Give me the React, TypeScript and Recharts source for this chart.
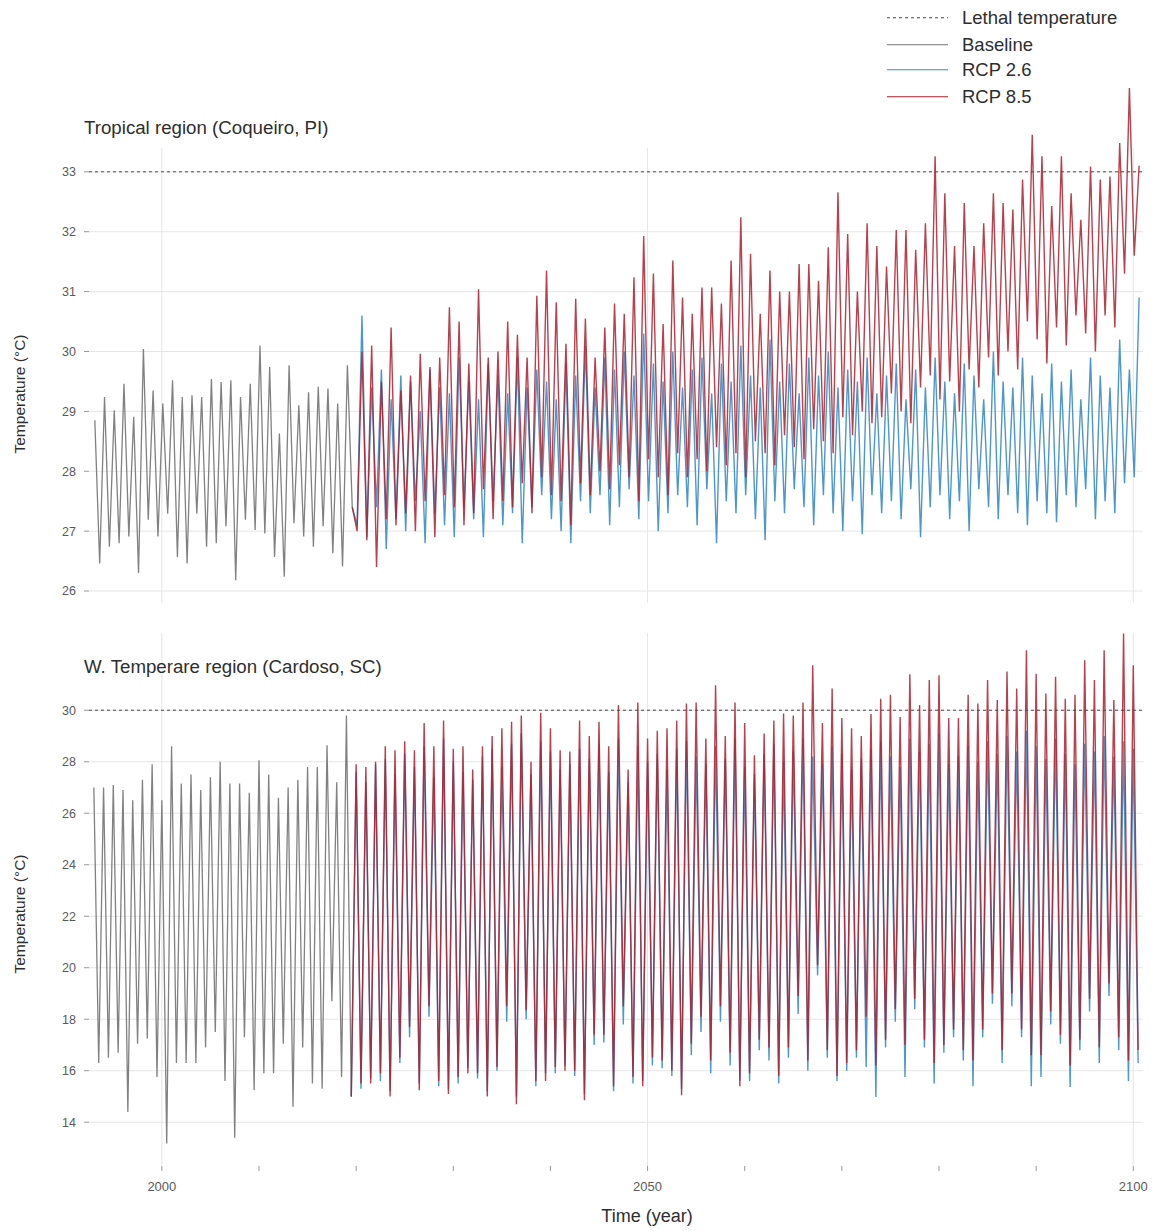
import {
  Line,
  LineChart,
  ReferenceLine,
  XAxis,
  YAxis,
} from "recharts";

// yearly peak / trough temperatures
const baseFirstYear = 1993;
const rcpFirstYear = 2020;

// Tropical region (Coqueiro, PI)
const topBasePeak = [
  28.85, 29.24, 29.02, 29.46, 28.91, 30.04, 29.35, 29.13, 29.52, 29.24,
  29.27, 29.24, 29.54, 29.49, 29.52, 29.24, 29.46, 30.1, 29.74, 28.63,
  29.77, 29.1, 29.32, 29.41, 29.38, 29.13, 29.77,
];
const topBaseTrough = [
  26.46, 26.74, 26.8, 26.91, 26.3, 27.19, 26.91, 27.29, 26.57, 26.46,
  27.29, 26.74, 26.8, 27.08, 26.18, 27.19, 27.02, 26.96, 26.57, 26.24,
  27.13, 26.91, 26.74, 27.08, 26.63, 26.41, 27.4,
];
const topRcp85Peak = [
  30.0, 30.1, 29.5, 30.4, 29.35, 29.6, 29.96, 29.74, 29.9, 30.74,
  30.5, 29.8, 31.04, 29.9, 30.0, 30.5, 30.28, 29.9, 30.93, 31.35,
  30.82, 30.13, 30.88, 30.55, 29.9, 30.4, 30.8, 30.63, 31.24, 31.93,
  31.3, 30.46, 31.52, 30.9, 30.63, 31.07, 31.07, 30.8, 31.52, 32.24,
  31.63, 30.63, 31.35, 31.0, 31.0, 31.46, 31.46, 31.18, 31.74, 32.66,
  31.96, 31.0, 32.14, 31.76, 31.42, 32.03, 32.03, 31.7, 32.14, 33.26,
  32.64, 31.76, 32.48, 31.76, 32.14, 32.64, 32.48, 32.37, 32.87, 33.62,
  33.26, 32.43, 33.26, 32.64, 32.2, 33.09, 32.87, 32.92, 33.48, 34.4,
  33.1,
];
const topRcp85Trough = [
  27.0, 26.85, 26.4, 27.2, 27.1, 27.3, 27.0, 27.5, 26.9, 27.6,
  27.4, 27.1, 27.3, 27.7, 27.2, 27.5, 27.4, 27.8, 27.3, 27.9,
  27.6, 27.5, 27.1, 27.8, 27.6, 28.0, 27.7, 28.1, 27.9, 27.5,
  28.2, 27.9, 27.6, 28.3, 27.9, 28.2, 28.0, 28.4, 28.1, 28.3,
  27.9, 28.5, 28.3, 28.1, 28.6, 28.4, 28.2, 28.7, 28.5, 28.3,
  28.9, 28.6, 29.0, 28.8, 28.9, 29.3, 29.0, 28.8, 29.4, 29.6,
  29.2, 29.5, 29.0, 29.7, 29.4, 29.9, 29.6, 30.0, 29.7, 30.5,
  30.2, 29.8, 30.4, 30.1, 30.6, 30.3, 30.0, 30.6, 30.4, 31.3,
  31.6,
];
const topRcp26Peak = [
  30.6, 29.4, 29.7, 29.2, 29.6, 29.5, 29.0, 29.7, 29.4, 29.3,
  29.9, 29.5, 29.2, 29.8, 29.6, 29.3, 29.9, 29.4, 29.7, 29.5,
  29.2, 29.8, 29.6, 30.1, 29.4, 29.9, 29.7, 30.0, 29.6, 30.3,
  29.8, 29.5, 30.0, 29.4, 29.7, 29.9, 29.3, 29.8, 29.5, 30.1,
  29.6, 29.4, 30.2, 29.5, 29.8, 29.3, 29.9, 29.6, 30.0, 29.4,
  29.7, 29.5, 29.9, 29.3, 29.6, 29.8, 29.2, 29.7, 29.4, 29.9,
  29.5, 29.3, 29.8, 29.6, 29.2, 30.0, 29.5, 29.4, 29.9, 29.6,
  29.3, 29.8, 29.5, 29.7, 29.2, 29.9, 29.6, 29.4, 30.2, 29.7,
  30.9,
];
const topRcp26Trough = [
  27.1, 26.9, 27.4, 26.7, 27.2, 27.0, 27.5, 26.8, 27.3, 27.1,
  26.9, 27.4, 27.2, 26.9, 27.5, 27.1, 27.3, 26.8, 27.4, 27.6,
  27.2, 27.0, 26.8, 27.5, 27.3, 27.6, 27.1, 27.4, 27.7, 27.2,
  27.5, 27.0, 27.3, 27.6, 27.4, 27.1, 27.7, 26.8, 27.5, 27.3,
  27.6, 27.2, 26.85, 27.5, 27.3, 27.7, 27.4, 27.1, 27.6, 27.3,
  27.0, 27.5, 26.95, 27.6, 27.3, 27.5, 27.2, 27.7, 26.9, 27.4,
  27.6, 27.2, 27.5, 27.0, 27.7, 27.4, 27.2, 27.6, 27.3, 27.1,
  27.5, 27.3, 27.15, 27.6, 27.4, 27.7, 27.2, 27.5, 27.3, 27.8,
  27.9,
];

// W. Temperare region (Cardoso, SC)
const botBasePeak = [
  27.0, 27.0, 27.1, 26.9, 26.5, 27.3, 27.9, 26.5, 28.6, 27.15,
  27.5, 26.9, 27.4, 28.0, 27.15, 27.15, 26.8, 28.06, 27.5, 26.6,
  27.0, 27.3, 27.8, 27.8, 28.64, 27.2, 29.8,
];
const botBaseTrough = [
  16.3, 16.5, 16.7, 14.4, 17.05, 17.25, 15.76, 13.17, 16.3, 16.3,
  16.3, 16.9, 17.5, 15.6, 13.4, 17.3, 15.25, 15.9, 15.9, 17.05,
  14.6, 16.9, 15.5, 15.3, 18.7, 15.76, 15.0,
];
const botRcp85Peak = [
  27.9, 27.8, 28.0, 28.6, 28.45, 28.8, 28.45, 29.5, 28.6, 29.6,
  28.5, 28.6, 27.7, 28.6, 29.0, 29.3, 29.55, 29.8, 28.0, 29.9,
  29.3, 28.45, 28.4, 29.6, 29.0, 29.55, 28.6, 30.2, 27.7, 30.3,
  28.9, 29.2, 29.3, 29.6, 30.26, 30.3, 28.9, 30.97, 29.0, 30.3,
  29.5, 28.25, 29.1, 29.6, 29.87, 29.8, 30.3, 31.75, 29.5, 30.84,
  29.7, 29.3, 29.0, 29.85, 30.45, 30.6, 29.74, 31.4, 30.2, 31.17,
  31.36, 29.7, 29.7, 30.6, 30.26, 31.17, 30.4, 31.5, 30.84, 32.33,
  31.42, 30.65, 31.3, 30.45, 30.6, 31.94, 31.17, 32.33, 30.4, 32.98,
  31.75,
];
const botRcp85Trough = [
  15.5, 15.5, 15.9, 15.0, 16.5, 17.7, 15.24, 18.5, 15.6, 15.1,
  15.76, 15.9, 15.9, 15.0, 16.15, 18.5, 14.7, 18.35, 15.6, 15.6,
  16.15, 16.0, 16.0, 14.85, 17.4, 17.4, 15.4, 18.5, 15.76, 15.4,
  16.5, 16.4, 16.0, 15.05, 17.05, 18.1, 16.4, 18.5, 16.7, 15.4,
  15.9, 17.2, 16.9, 15.8, 16.9, 18.9, 16.4, 20.1, 16.8, 15.8,
  16.3, 16.8, 18.1, 16.2, 17.2, 18.4, 17.0, 18.8, 17.2, 16.3,
  17.0, 17.6, 16.8, 16.4, 17.6, 19.0, 16.8, 19.0, 17.6, 16.6,
  16.6, 18.3, 17.4, 16.2, 17.2, 18.8, 16.9, 19.4, 17.3, 16.4,
  16.8,
];
const botRcp26Peak = [
  27.6, 27.2, 27.9, 28.1, 27.5, 28.3, 27.8, 28.6, 27.4, 28.9,
  28.0, 27.6, 27.3, 28.2, 28.5, 27.8, 28.7, 29.1, 27.5, 28.8,
  28.4, 27.7, 27.9, 28.5, 28.1, 28.7, 27.6, 28.9, 27.2, 28.6,
  28.0, 28.3, 27.7, 28.5, 28.8, 28.2, 27.9, 28.6, 28.1, 28.9,
  27.8, 27.5, 28.3, 28.7, 28.0, 28.4, 28.9, 28.2, 27.9, 28.6,
  28.3, 27.7, 28.1, 28.5, 28.8, 28.2, 27.8, 28.9, 28.4, 28.7,
  29.1, 27.9, 28.2, 28.6, 28.0, 28.8, 28.3, 29.0, 28.4, 29.2,
  28.6, 28.1, 28.9, 28.3, 27.9, 28.7, 28.4, 29.0, 28.2, 28.8,
  28.5,
];
const botRcp26Trough = [
  15.3, 15.7, 15.6, 15.2, 16.3, 17.3, 15.5, 18.1, 15.4, 15.3,
  15.5, 16.1, 15.7, 15.2, 16.0, 17.9, 15.0, 18.0, 15.4, 15.9,
  15.9, 16.2, 15.8, 15.1, 17.0, 17.1, 15.2, 17.8, 15.5, 15.6,
  16.2, 16.1, 15.8, 15.3, 16.6, 17.5, 15.9, 17.9, 16.2, 15.6,
  15.6, 16.8, 16.4, 15.5, 16.5, 18.2, 16.0, 19.7, 16.5, 15.6,
  16.0, 16.5, 16.15, 14.98, 16.9, 17.9, 15.76, 18.4, 16.9, 15.5,
  16.7, 17.3, 16.4, 15.4, 17.3, 18.6, 16.3, 18.5, 17.3, 15.4,
  15.76, 17.8, 17.05, 15.37, 16.8, 18.3, 16.3, 18.9, 16.8, 15.6,
  16.3,
];

const topTicks = [26, 27, 28, 29, 30, 31, 32, 33];
const botTicks = [14, 16, 18, 20, 22, 24, 26, 28, 30];
const yearTicks = [2000, 2010, 2020, 2030, 2040, 2050, 2060, 2070, 2080, 2090, 2100];
const gridYears = [2000, 2050, 2100];

const COLORS = {
  baseline: "#737373",
  rcp26: "#3a8cc4",
  rcp85: "#ad1f2d",
  lethal: "#4a4a4a",
  grid: "#e6e6e6",
  text: "#2e2e2e",
  tick: "#5a5a5a",
};

type Pt = { year: number; temp: number };

function zigzag(first: number, a: number[], b: number[], offA: number, offB: number): Pt[] {
  const out: Pt[] = [];
  a.forEach((v, i) => {
    out.push({ year: first + i + offA, temp: v });
    out.push({ year: first + i + offB, temp: b[i] });
  });
  return out;
}

const topBase = zigzag(baseFirstYear, topBasePeak, topBaseTrough, 0.1, 0.6);
const topJoin = topBase[topBase.length - 1];
const top26 = [topJoin, ...zigzag(rcpFirstYear, topRcp26Trough, topRcp26Peak, 0.1, 0.6)];
const top85 = [topJoin, ...zigzag(rcpFirstYear, topRcp85Trough, topRcp85Peak, 0.1, 0.6)];

const botBase = zigzag(baseFirstYear, botBasePeak, botBaseTrough, 0, 0.5);
const botJoin = botBase[botBase.length - 1];
const bot26 = [botJoin, ...zigzag(rcpFirstYear, botRcp26Peak, botRcp26Trough, 0, 0.5)];
const bot85 = [botJoin, ...zigzag(rcpFirstYear, botRcp85Peak, botRcp85Trough, 0, 0.5)];

const X_DOMAIN: [number, number] = [1992.5, 2101];

type PanelProps = {
  height: number;
  margin: { top: number; right: number; bottom: number; left: number };
  yDomain: [number, number];
  yTicks: number[];
  lethal: number;
  gridTop: number;
  base: Pt[];
  r26: Pt[];
  r85: Pt[];
  showX: boolean;
};

function Panel(p: PanelProps) {
  return (
    <LineChart width={1153} height={p.height} margin={p.margin}>
      <XAxis
        dataKey="year"
        type="number"
        domain={X_DOMAIN}
        allowDataOverflow
        ticks={yearTicks}
        hide={!p.showX}
        height={32}
        axisLine={false}
        tickLine={{ stroke: "#999" }}
        tickSize={5}
        tickMargin={11}
        tick={{ fontSize: 13, fill: COLORS.tick }}
        tickFormatter={(v: number) => (v % 50 === 0 ? String(v) : "")}
      />
      <YAxis
        type="number"
        domain={p.yDomain}
        allowDataOverflow
        ticks={p.yTicks}
        width={89}
        axisLine={false}
        tickLine={{ stroke: "#999" }}
        tickSize={5}
        tickMargin={8}
        tick={{ fontSize: 12.5, fill: COLORS.tick }}
      />
      {p.yTicks.map((t) => (
        <ReferenceLine key={"h" + t} y={t} stroke={COLORS.grid} />
      ))}
      {gridYears.map((y) => (
        <ReferenceLine
          key={"v" + y}
          segment={[
            { x: y, y: p.yDomain[0] },
            { x: y, y: p.gridTop },
          ]}
          stroke={COLORS.grid}
        />
      ))}
      <Line
        data={p.base}
        dataKey="temp"
        type="linear"
        stroke={COLORS.baseline}
        strokeWidth={1.3}
        strokeOpacity={0.9}
        dot={false}
        isAnimationActive={false}
      />
      <Line
        data={p.r26}
        dataKey="temp"
        type="linear"
        stroke={COLORS.rcp26}
        strokeWidth={1.4}
        strokeOpacity={0.9}
        dot={false}
        isAnimationActive={false}
      />
      <Line
        data={p.r85}
        dataKey="temp"
        type="linear"
        stroke={COLORS.rcp85}
        strokeWidth={1.4}
        strokeOpacity={0.85}
        dot={false}
        isAnimationActive={false}
      />
      <ReferenceLine y={p.lethal} stroke={COLORS.lethal} strokeDasharray="3 3" />
    </LineChart>
  );
}

const legendItems = [
  { label: "Lethal temperature", color: COLORS.lethal, dash: "3 3" },
  { label: "Baseline", color: COLORS.baseline, dash: "" },
  { label: "RCP 2.6", color: COLORS.rcp26, dash: "" },
  { label: "RCP 8.5", color: COLORS.rcp85, dash: "" },
];
const legendRows = [18, 45, 70, 97];

function App() {
  const font = "'Liberation Sans', Arial, Helvetica, sans-serif";
  const yLabel: React.CSSProperties = {
    position: "absolute",
    left: 20,
    transform: "translate(-50%, -50%) rotate(-90deg)",
    whiteSpace: "nowrap",
    fontSize: 15.5,
    lineHeight: 1,
    color: COLORS.text,
  };
  const title: React.CSSProperties = {
    position: "absolute",
    left: 84,
    fontSize: 18.7,
    lineHeight: 1,
    whiteSpace: "nowrap",
    transform: "translateY(-50%)",
    color: COLORS.text,
  };
  return (
    <div
      style={{
        position: "absolute",
        left: 0,
        top: 0,
        width: 1153,
        height: 1231,
        background: "#fff",
        fontFamily: font,
        overflow: "hidden",
      }}
    >
      <div style={{ position: "absolute", left: 0, top: 0 }}>
        <Panel
          height={610}
          margin={{ top: 76, right: 10, bottom: 7, left: 0 }}
          yDomain={[25.8, 34.6]}
          yTicks={topTicks}
          lethal={33}
          gridTop={33.4}
          base={topBase}
          r26={top26}
          r85={top85}
          showX={false}
        />
      </div>
      <div style={{ position: "absolute", left: 0, top: 620 }}>
        <Panel
          height={611}
          margin={{ top: 13, right: 10, bottom: 33, left: 0 }}
          yDomain={[12.3, 33]}
          yTicks={botTicks}
          lethal={30}
          gridTop={33}
          base={botBase}
          r26={bot26}
          r85={bot85}
          showX={true}
        />
      </div>

      <div style={{ ...title, top: 128 }}>Tropical region (Coqueiro, PI)</div>
      <div style={{ ...title, top: 667 }}>W. Temperare region (Cardoso, SC)</div>
      <div style={{ ...yLabel, top: 394 }}>Temperature (°C)</div>
      <div style={{ ...yLabel, top: 914 }}>Temperature (°C)</div>
      <div
        style={{
          position: "absolute",
          left: 647,
          top: 1216,
          transform: "translate(-50%, -50%)",
          fontSize: 18,
          lineHeight: 1,
          whiteSpace: "nowrap",
          color: COLORS.text,
        }}
      >
        Time (year)
      </div>

      {legendItems.map((it, i) => (
        <div
          key={it.label}
          style={{
            position: "absolute",
            left: 886,
            top: legendRows[i],
            transform: "translateY(-50%)",
            display: "flex",
            alignItems: "center",
            fontSize: 18.5,
            lineHeight: 1,
            whiteSpace: "nowrap",
            color: COLORS.text,
          }}
        >
          <svg width={64} height={4} style={{ marginRight: 12 }}>
            <line
              x1={1}
              y1={2}
              x2={62}
              y2={2}
              stroke={it.color}
              strokeWidth={1}
              strokeDasharray={it.dash || undefined}
            />
          </svg>
          <span>{it.label}</span>
        </div>
      ))}
    </div>
  );
}

export default App;
